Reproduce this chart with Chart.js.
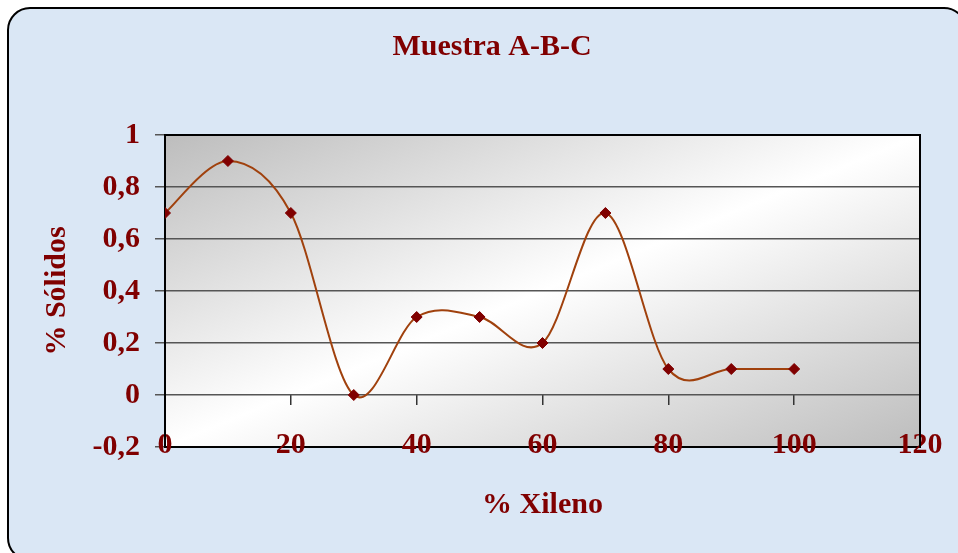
<!DOCTYPE html>
<html>
<head>
<meta charset="utf-8">
<script src="https://cdn.jsdelivr.net/npm/chart.js@4.4.0/dist/chart.umd.min.js"></script>
<style>
  html, body { margin: 0; padding: 0; background: #ffffff; }
  #wrap { position: relative; width: 958px; height: 553px; }
</style>
</head>
<body>
<div id="wrap"><canvas id="grafico"></canvas></div>
<script>
// Datos
const xileno = [0, 10, 20, 30, 40, 50, 60, 70, 80, 90, 100];
const solidos = [0.7, 0.9, 0.7, 0, 0.3, 0.3, 0.2, 0.7, 0.1, 0.1, 0.1];
const xTickLabels = ['0', '20', '40', '60', '80', '100', '120'];
const yTickLabels = ['-0,2', '0', '0,2', '0,4', '0,6', '0,8', '1'];
const tituloGrafico = 'Muestra A-B-C';

const ROJO = '#800000';
const FUENTE = 'Liberation Serif, "Times New Roman", serif';

// Fondo azul con borde redondeado y degradado del área de trazado
const fondoPlugin = {
  id: 'fondo',
  beforeDraw(chart) {
    const { ctx, chartArea: a } = chart;
    ctx.save();
    ctx.fillStyle = '#ffffff';
    ctx.fillRect(0, 0, chart.width, chart.height);
    ctx.beginPath();
    ctx.roundRect(8, 8, 958, 552, 22);
    ctx.fillStyle = '#dae7f5';
    ctx.fill();
    ctx.lineWidth = 2;
    ctx.strokeStyle = '#000000';
    ctx.stroke();

    // degradado diagonal: gris - blanco - gris
    const w = a.right - a.left, h = a.bottom - a.top;
    const len = Math.sqrt(w * w + h * h);
    const proj = (2 * w * h) / len;
    const gx = a.left + proj * h / len, gy = a.top + proj * w / len;
    const g = ctx.createLinearGradient(a.left, a.top, gx, gy);
    g.addColorStop(0, '#bdbdbd');
    g.addColorStop(0.5, '#ffffff');
    g.addColorStop(1, '#bdbdbd');
    ctx.fillStyle = g;
    ctx.fillRect(a.left, a.top, w, h);
    ctx.restore();
  },
  beforeDatasetsDraw(chart) {
    const { ctx, chartArea: a } = chart;
    ctx.save();
    ctx.strokeStyle = '#000000';
    ctx.lineWidth = 2;
    ctx.beginPath();
    ctx.moveTo(a.left, a.top);
    ctx.lineTo(a.right, a.top);
    ctx.lineTo(a.right, a.bottom);
    ctx.stroke();
    ctx.restore();
  },
  afterDraw(chart) {
    const { ctx } = chart;
    ctx.save();
    ctx.font = 'bold 30px ' + FUENTE;
    ctx.fillStyle = ROJO;
    ctx.textAlign = 'center';
    ctx.textBaseline = 'middle';
    ctx.fillText(tituloGrafico, 492, 47);
    ctx.restore();
  }
};

// Suavizado tipo Excel (Catmull-Rom): puntos de control a 1/6 de la tangente
const suavizadoPlugin = {
  id: 'suavizado',
  beforeDatasetsDraw(chart) {
    chart.getSortedVisibleDatasetMetas().forEach((meta) => {
      const pts = meta.data;
      const n = pts.length;
      pts.forEach((p, i) => {
        const prev = pts[Math.max(i - 1, 0)];
        const next = pts[Math.min(i + 1, n - 1)];
        const dx = (next.x - prev.x) / 6;
        const dy = (next.y - prev.y) / 6;
        p.cp1x = p.x - dx; p.cp1y = p.y - dy;
        p.cp2x = p.x + dx; p.cp2y = p.y + dy;
      });
      meta.dataset._pointsUpdated = true;
    });
  }
};

function initializeChart() {
  const canvas = document.getElementById('grafico');
  const puntos = xileno.map((x, i) => ({ x: x, y: solidos[i] }));

  new Chart(canvas.getContext('2d'), {
    type: 'line',
    data: {
      datasets: [{
        label: 'Muestra A-B-C',
        data: puntos,
        xAxisID: 'x',
        yAxisID: 'y',
        borderColor: '#a0410d',
        borderWidth: 2,
        tension: 0.4,
        pointStyle: 'rectRot',
        pointRadius: 5.5,
        pointBackgroundColor: ROJO,
        pointBorderColor: ROJO,
        pointBorderWidth: 1
      }]
    },
    options: {
      responsive: true,
      maintainAspectRatio: false,
      animation: false,
      layout: { padding: { left: 0, top: 135, right: 38, bottom: 0 } },
      plugins: {
        legend: { display: false },
        title: { display: false },
        tooltip: { enabled: false }
      },
      scales: {
        x: {
          type: 'linear',
          position: 'bottom',
          min: 0,
          max: 120,
          afterFit: (s) => { s.height = 106; },
          grid: { display: false, drawTicks: false },
          border: { display: true, color: '#000000', width: 2 },
          ticks: {
            stepSize: 20,
            mirror: true,      // evita el recorte de las etiquetas sobre el eje
            padding: -16,
            color: ROJO,
            font: { family: FUENTE, size: 30, weight: 'bold' },
            callback: (v, i) => xTickLabels[i]
          },
          title: {
            display: true,
            text: '% Xileno',
            color: ROJO,
            font: { family: FUENTE, size: 30, weight: 'bold' },
            padding: { top: 0, bottom: 30 }
          }
        },
        xt: {
          axis: 'x',
          type: 'linear',
          position: { y: 0 },
          min: 0,
          max: 120,
          grid: { drawOnChartArea: false, drawTicks: true, tickLength: 10, color: '#333333', lineWidth: 1.5 },
          border: { display: false },
          ticks: { stepSize: 20, display: false }
        },
        y: {
          type: 'linear',
          min: -0.2,
          max: 1,
          afterFit: (s) => { s.width = 165; },
          grid: { color: '#555555', lineWidth: 1.5, tickLength: 10 },
          border: { display: true, color: '#000000', width: 2 },
          ticks: {
            stepSize: 0.2,
            padding: 15,
            color: ROJO,
            font: { family: FUENTE, size: 30, weight: 'bold' },
            callback: (v, i) => yTickLabels[i]
          },
          title: {
            display: true,
            text: '% Sólidos',
            color: ROJO,
            font: { family: FUENTE, size: 30, weight: 'bold' },
            padding: { top: 39, bottom: 0 }
          }
        }
      }
    },
    plugins: [fondoPlugin, suavizadoPlugin]
  });
}

document.addEventListener('DOMContentLoaded', initializeChart);
</script>
</body>
</html>
